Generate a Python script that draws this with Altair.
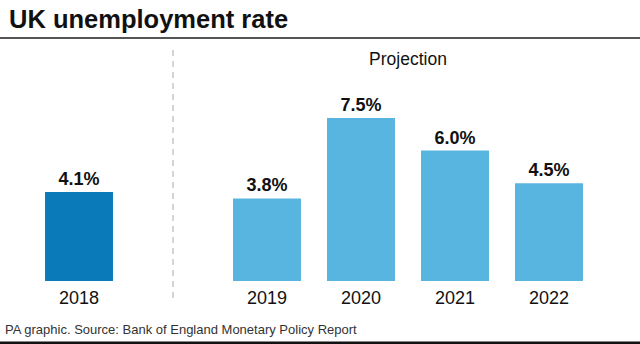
import altair as alt
import pandas as pd

title_text = "UK unemployment rate"
source_text = "PA graphic. Source: Bank of England Monetary Policy Report"
years = ["2018", "2019", "2020", "2021", "2022"]
rates = [4.1, 3.8, 7.5, 6.0, 4.5]
kinds = ["Actual", "Projection", "Projection", "Projection", "Projection"]
labels = ["4.1%", "3.8%", "7.5%", "6.0%", "4.5%"]
gap = " "
x_domain = [years[0], gap] + years[1:]

df = pd.DataFrame({"year": years, "rate": rates, "kind": kinds, "label": labels})

FONT = "Liberation Sans"
x = alt.X("year:N", scale=alt.Scale(domain=x_domain, range=[0, 628], paddingInner=0.277, paddingOuter=0.479), axis=None)
y = alt.Y("rate:Q", scale=alt.Scale(domain=[0, 7.5], range=[281, 118]), axis=None)

base = alt.Chart(df)
bars = base.mark_bar().encode(
    x=x, y=y,
    color=alt.Color("kind:N", scale=alt.Scale(domain=["Actual", "Projection"], range=["#0a7bb8", "#58b5df"]), legend=None),
)
vals = base.mark_text(baseline="alphabetic", dy=-7, font=FONT, fontSize=18, fontWeight="bold", color="#111").encode(
    x=x, y=y, text="label:N")
yrs = base.mark_text(baseline="alphabetic", font=FONT, fontSize=18, color="#111").encode(
    x=x, y=alt.value(304), text="year:N")

div = alt.Chart(pd.DataFrame({"year": [gap]})).mark_rule(strokeDash=[6, 5], color="#aaaaaa", strokeWidth=1).encode(
    x=x, y=alt.value(50), y2=alt.value(300))

proj = alt.Chart(pd.DataFrame({"t": ["Projection"]})).mark_text(font=FONT, fontSize=17.5, color="#111", baseline="middle").encode(
    x=alt.value(408), y=alt.value(60), text="t:N")

ttl = alt.Chart(pd.DataFrame({"t": [title_text]})).mark_text(font=FONT, fontSize=25.5, fontWeight="bold", color="#111", align="left", baseline="alphabetic").encode(
    x=alt.value(9), y=alt.value(28), text="t:N")
src = alt.Chart(pd.DataFrame({"t": [source_text]})).mark_text(font=FONT, fontSize=13, color="#333", align="left", baseline="alphabetic").encode(
    x=alt.value(5), y=alt.value(334), text="t:N")

topline = alt.Chart(pd.DataFrame({"a": [0]})).mark_rule(color="#555", strokeWidth=2).encode(
    x=alt.value(0), x2=alt.value(640), y=alt.value(38))
botline = alt.Chart(pd.DataFrame({"a": [0]})).mark_rule(color="#111", strokeWidth=3).encode(
    x=alt.value(0), x2=alt.value(640), y=alt.value(343))

chart = alt.layer(div, bars, vals, yrs, proj, ttl, src, topline, botline).properties(
    width=640, height=344, autosize=alt.AutoSizeParams(type="none"), padding=0, background="white"
).configure_view(stroke=None)

chart.save("out.html", embed_options={"renderer": "svg", "actions": False})
